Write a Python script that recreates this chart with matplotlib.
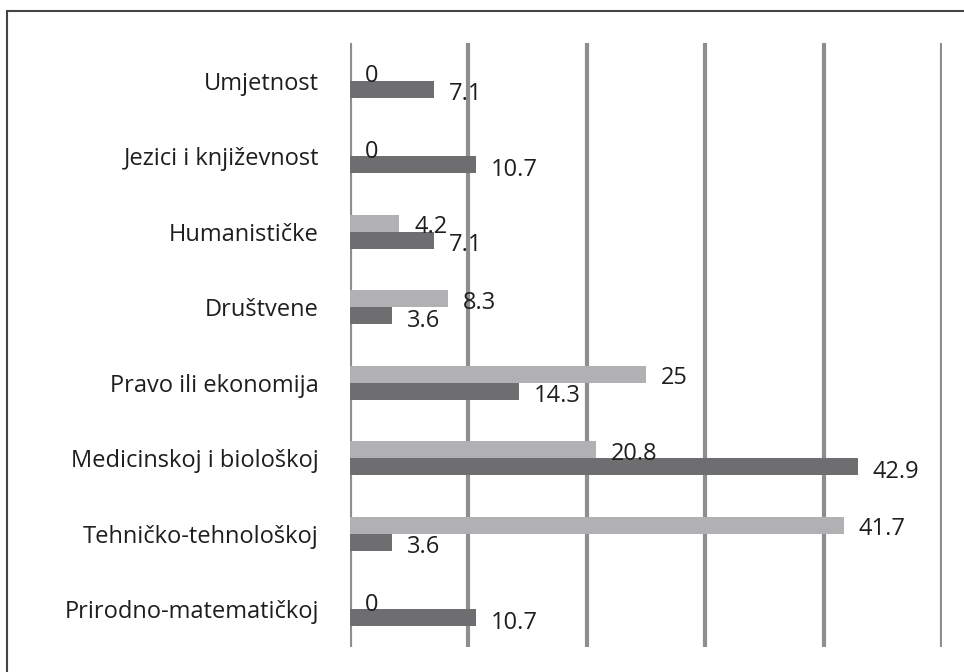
import numpy as np
import matplotlib.pyplot as plt
from matplotlib.patches import Rectangle

plt.rcParams["font.family"] = ["Open Sans", "DejaVu Sans"]

categories = ['Prirodno-matematičkoj', 'Tehničko-tehnološkoj', 'Medicinskoj i biološkoj',
              'Pravo ili ekonomija', 'Društvene', 'Humanističke',
              'Jezici i književnost', 'Umjetnost']
light_vals = [0, 41.7, 20.8, 25, 8.3, 4.2, 0, 0]
dark_vals = [10.7, 3.6, 42.9, 14.3, 3.6, 7.1, 10.7, 7.1]

light_col = '#b1b1b4'
dark_col = '#6e6e70'
grid_col = '#8e8e90'

W, H = 964, 672
fig = plt.figure(figsize=(W / 100, H / 100), dpi=100)
ax = fig.add_axes([349.5 / W, 1 - 647 / H, 592.5 / W, (647 - 43) / H])

y = np.arange(len(categories))
h = 0.225
ax.barh(y + h / 2, light_vals, height=h, color=light_col, zorder=3)
ax.barh(y - h / 2, dark_vals, height=h, color=dark_col, zorder=3)

fs = 17
for yi, v in zip(y, light_vals):
    ax.annotate('{:g}'.format(v), (v, yi + h / 2), xytext=(15, -4), textcoords='offset pixels',
                ha='left', va='center', fontsize=fs, color='#1e1e1e', zorder=4)
for yi, v in zip(y, dark_vals):
    ax.annotate('{:g}'.format(v), (v, yi - h / 2), xytext=(15, -5), textcoords='offset pixels',
                ha='left', va='center', fontsize=fs, color='#1e1e1e', zorder=4)

ax.set_xlim(0, 50)
ax.set_ylim(-0.5, len(categories) - 0.5)
ax.set_xticks(np.arange(0, 51, 10))
ax.xaxis.grid(True, color=grid_col, lw=3, zorder=1)
ax.tick_params(axis='x', length=0, labelbottom=False)
ax.tick_params(axis='y', length=0, pad=22)
ax.set_yticks(y)
ax.set_yticklabels(categories, fontsize=fs, color='#1e1e1e')
for s in ax.spines.values():
    s.set_visible(False)

# outer frame (only top/left edges fall inside the picture)
fig.patches.append(Rectangle((7 / W, -0.1), 1.2, 1 - 11 / H + 0.1, transform=fig.transFigure,
                             fill=False, edgecolor='#444444', lw=1.5))

plt.savefig('out.png', dpi=100)
